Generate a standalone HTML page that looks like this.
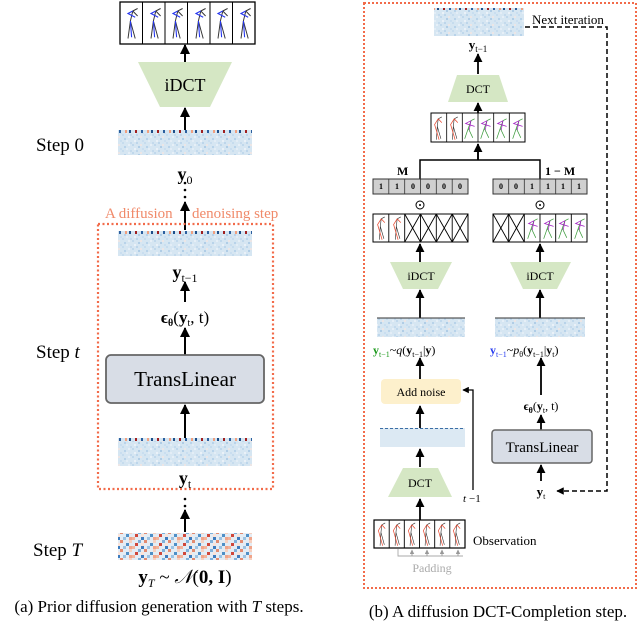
<!DOCTYPE html>
<html><head><meta charset="utf-8"><style>
html,body{margin:0;padding:0;background:#fff;}
svg{display:block;font-family:"Liberation Serif",serif;}
</style></head><body>
<svg width="640" height="623" viewBox="0 0 640 623" xmlns="http://www.w3.org/2000/svg">
<defs>
<marker id="ar" viewBox="0 0 10 10" refX="9" refY="5" markerWidth="5" markerHeight="5" orient="auto-start-reverse"><path d="M0,0 L10,5 L0,10 z" fill="#000"/></marker>
<marker id="arg" viewBox="0 0 10 10" refX="9" refY="5" markerWidth="5" markerHeight="5" orient="auto"><path d="M0,0 L10,5 L0,10 z" fill="#999"/></marker>
<pattern id="hm" width="22" height="8" patternUnits="userSpaceOnUse">
<rect width="22" height="8" fill="#d6e6f2"/>
<rect x="0" y="0" width="2" height="2" fill="#c0d8ec"/><rect x="6" y="2" width="2" height="2" fill="#b0cde6"/>
<rect x="12" y="6" width="2" height="2" fill="#c6dcee"/><rect x="18" y="0" width="2" height="2" fill="#e6eff7"/>
<rect x="2" y="4" width="2" height="2" fill="#eaf1f8"/><rect x="14" y="2" width="2" height="2" fill="#b8d3ea"/>
<rect x="20" y="6" width="2" height="2" fill="#c4daed"/><rect x="8" y="0" width="2" height="2" fill="#ece6e6"/>
<rect x="4" y="6" width="2" height="2" fill="#bdd6eb"/><rect x="16" y="4" width="2" height="2" fill="#e3edf6"/>
<rect x="10" y="4" width="2" height="2" fill="#c9def0"/>
</pattern>
<pattern id="top" width="22" height="3" patternUnits="userSpaceOnUse">
<rect width="22" height="3" fill="#d6e6f2"/>
<rect x="3" y="0" width="2" height="3" fill="#a02020"/><rect x="9" y="0" width="2" height="3" fill="#2c5f9e"/>
<rect x="15" y="0" width="2" height="3" fill="#f0a080"/><rect x="19" y="0" width="2" height="3" fill="#1e4f8a"/>
</pattern>
<pattern id="hmT" width="24" height="9" patternUnits="userSpaceOnUse">
<rect width="24" height="9" fill="#e4ecf4"/>
<rect x="0" y="0" width="3" height="3" fill="#e28a70"/><rect x="6" y="3" width="3" height="3" fill="#4f8fc6"/>
<rect x="12" y="6" width="3" height="3" fill="#f3b39b"/><rect x="18" y="0" width="3" height="3" fill="#7fb0d9"/>
<rect x="3" y="6" width="3" height="3" fill="#9cc3e3"/><rect x="15" y="3" width="3" height="3" fill="#d0473a"/>
<rect x="21" y="6" width="3" height="3" fill="#3d7cbf"/><rect x="9" y="0" width="3" height="3" fill="#f6d0c0"/>
<rect x="9" y="6" width="3" height="3" fill="#f0a48a"/><rect x="21" y="3" width="3" height="3" fill="#fbe3d8"/>
</pattern>
<g id="figB"><path d="M5,26 L7,12 L9,4 L13,2 M9,4 L13,8 M7,12 L11,26" fill="none" stroke="#333" stroke-width="0.8"/><path d="M7,12 L8,25 M9,4 L5,6 L11,9" fill="none" stroke="#2233ee" stroke-width="0.9"/></g>
<g id="figR"><path d="M6,26 L7,12 L8,4 L12,2 M7,12 L11,25" fill="none" stroke="#333" stroke-width="0.7"/><path d="M8,4 L4,10 L9,26 M8,4 L12,8" fill="none" stroke="#e8452c" stroke-width="0.8"/></g>
<g id="figG"><path d="M3,25 L7,14 L10,6 L14,4 M7,14 L12,24" fill="none" stroke="#3a9a3a" stroke-width="0.8"/><path d="M10,6 L4,9 L14,12 M10,6 L8,16" fill="none" stroke="#a020c0" stroke-width="0.8"/></g>
</defs>

<!-- LEFT (a) -->
<rect x="120" y="2" width="135" height="42" fill="#fff" stroke="#000" stroke-width="1.3"/>
<g stroke="#000" stroke-width="1"><line x1="142.5" y1="2" x2="142.5" y2="44"/><line x1="165" y1="2" x2="165" y2="44"/><line x1="187.5" y1="2" x2="187.5" y2="44"/><line x1="210" y1="2" x2="210" y2="44"/><line x1="232.5" y1="2" x2="232.5" y2="44"/></g>
<g transform="translate(122,6) scale(1.2,1.25)"><use href="#figB"/></g>
<g transform="translate(145,6) scale(1.2,1.25)"><use href="#figB"/></g>
<g transform="translate(167,6) scale(1.2,1.25)"><use href="#figB"/></g>
<g transform="translate(190,6) scale(1.2,1.25)"><use href="#figB"/></g>
<g transform="translate(212,6) scale(1.2,1.25)"><use href="#figB"/></g>
<g transform="translate(235,6) scale(1.2,1.25)"><use href="#figB"/></g>
<line x1="185" y1="62" x2="185" y2="45" stroke="#000" stroke-width="2" marker-end="url(#ar)"/>
<polygon points="138,62 232,62 210,107 160,107" fill="#d5e7c4"/>
<text x="185" y="91" font-size="18" text-anchor="middle">iDCT</text>
<line x1="185" y1="130" x2="185" y2="108" stroke="#000" stroke-width="2" marker-end="url(#ar)"/>
<text x="36" y="151" font-size="19">Step  0</text>
<rect x="118" y="130" width="134" height="25" fill="url(#hm)"/><rect x="118" y="130" width="134" height="3" fill="url(#top)"/>
<text x="185" y="180" font-size="18" font-weight="bold" text-anchor="middle">y<tspan font-size="12" font-weight="normal" dy="4">0</tspan></text>
<g fill="#000"><circle cx="185" cy="183" r="1.3"/><circle cx="185" cy="190" r="1.3"/><circle cx="185" cy="197" r="1.3"/></g>
<line x1="185" y1="230" x2="185" y2="202" stroke="#000" stroke-width="2" marker-end="url(#ar)"/>
<text x="105" y="218" font-size="15" fill="#f08a6a">A diffusion</text>
<text x="192" y="218" font-size="15" fill="#f08a6a">denoising step</text>
<rect x="98" y="224" width="175" height="265" fill="none" stroke="#f26b4a" stroke-width="2.2" stroke-dasharray="2,2.5"/>
<rect x="118" y="231" width="134" height="25" fill="url(#hm)"/><rect x="118" y="231" width="134" height="3" fill="url(#top)"/>
<text x="185" y="278" font-size="18" font-weight="bold" text-anchor="middle">y<tspan font-size="12" font-weight="normal" dy="4">t−1</tspan></text>
<line x1="185" y1="302" x2="185" y2="282" stroke="#000" stroke-width="2" marker-end="url(#ar)"/>
<text x="185" y="323" font-size="17" font-weight="bold" text-anchor="middle">ϵ<tspan font-size="10" dy="3">θ</tspan><tspan dy="-3" font-weight="normal">(</tspan>y<tspan font-size="10" font-weight="normal" dy="3">t</tspan><tspan dy="-3" font-weight="normal">, t)</tspan></text>
<line x1="185" y1="355" x2="185" y2="328" stroke="#000" stroke-width="2" marker-end="url(#ar)"/>
<text x="36" y="358" font-size="19">Step  <tspan font-style="italic">t</tspan></text>
<rect x="106" y="355" width="158" height="48" rx="5" fill="#d8dde6" stroke="#666" stroke-width="1.8"/>
<text x="185" y="386" font-size="21" text-anchor="middle">TransLinear</text>
<line x1="185" y1="438" x2="185" y2="405" stroke="#000" stroke-width="2" marker-end="url(#ar)"/>
<rect x="118" y="438" width="134" height="28" fill="url(#hm)"/><rect x="118" y="438" width="134" height="3" fill="url(#top)"/>
<text x="185" y="484" font-size="18" font-weight="bold" text-anchor="middle">y<tspan font-size="12" font-weight="normal" dy="4">t</tspan></text>
<g fill="#000"><circle cx="185" cy="499" r="1.3"/><circle cx="185" cy="506" r="1.3"/></g>
<line x1="185" y1="532" x2="185" y2="510" stroke="#000" stroke-width="2" marker-end="url(#ar)"/>
<text x="33" y="556" font-size="19">Step  <tspan font-style="italic">T</tspan></text>
<rect x="118" y="533" width="134" height="27" fill="url(#hmT)"/>
<text x="185" y="583" font-size="19" font-weight="bold" text-anchor="middle">y<tspan font-size="12" font-weight="normal" font-style="italic" dy="4">T</tspan><tspan dy="-4" font-weight="normal"> ~ </tspan><tspan font-style="italic" font-weight="normal">𝒩</tspan><tspan font-weight="normal">(</tspan>0, I<tspan font-weight="normal">)</tspan></text>
<text x="159" y="612" font-size="17" text-anchor="middle">(a) Prior diffusion generation with <tspan font-style="italic">T</tspan> steps.</text>

<!-- RIGHT (b) -->
<rect x="364" y="3" width="272" height="585" fill="none" stroke="#f26b4a" stroke-width="2" stroke-dasharray="2,2"/>
<rect x="434" y="8" width="90" height="28" fill="url(#hm)"/><rect x="434" y="8" width="90" height="2" fill="url(#top)"/>
<text x="532" y="24" font-size="13">Next iteration</text>
<path d="M525,27 L607,27 L607,491 L557,491" fill="none" stroke="#000" stroke-width="1.5" stroke-dasharray="5,3" marker-end="url(#ar)"/>
<text x="478" y="49" font-size="13" font-weight="bold" text-anchor="middle">y<tspan font-size="9" font-weight="normal" dy="3">t−1</tspan></text>
<line x1="478" y1="74" x2="478" y2="54" stroke="#000" stroke-width="1.8" marker-end="url(#ar)"/>
<polygon points="457,75 499,75 508,102 448,102" fill="#d5e7c4"/>
<text x="478" y="93" font-size="12" text-anchor="middle">DCT</text>
<line x1="478" y1="113" x2="478" y2="103" stroke="#000" stroke-width="1.8" marker-end="url(#ar)"/>
<rect x="431" y="113" width="94" height="29" fill="#fff" stroke="#000" stroke-width="1"/>
<g stroke="#000" stroke-width="0.8"><line x1="446.7" y1="113" x2="446.7" y2="142"/><line x1="462.3" y1="113" x2="462.3" y2="142"/><line x1="478" y1="113" x2="478" y2="142"/><line x1="493.7" y1="113" x2="493.7" y2="142"/><line x1="509.3" y1="113" x2="509.3" y2="142"/></g>
<use href="#figR" transform="translate(431,115) scale(0.9,0.95)"/><use href="#figR" transform="translate(447,115) scale(0.9,0.95)"/>
<use href="#figG" transform="translate(462,115) scale(0.9,0.95)"/><use href="#figG" transform="translate(478,115) scale(0.9,0.95)"/>
<use href="#figG" transform="translate(494,115) scale(0.9,0.95)"/><use href="#figG" transform="translate(510,115) scale(0.9,0.95)"/>
<path d="M420,179 L420,160 L540,160 L540,179 M478,160 L478,144" fill="none" stroke="#000" stroke-width="1.5"/>
<line x1="478" y1="160" x2="478" y2="144" stroke="#000" stroke-width="1.8" marker-end="url(#ar)"/>
<text x="397" y="175" font-size="12" font-weight="bold">M</text>
<text x="545" y="175" font-size="12" font-weight="bold">1 − M</text>
<g font-size="8" text-anchor="middle" font-weight="bold">
<rect x="373" y="179" width="95" height="15" fill="#d0d0d0" stroke="#333" stroke-width="1"/>
<g stroke="#333" stroke-width="0.8"><line x1="388.8" y1="179" x2="388.8" y2="194"/><line x1="404.7" y1="179" x2="404.7" y2="194"/><line x1="420.5" y1="179" x2="420.5" y2="194"/><line x1="436.3" y1="179" x2="436.3" y2="194"/><line x1="452.2" y1="179" x2="452.2" y2="194"/></g>
<text x="381" y="189">1</text><text x="397" y="189">1</text><text x="413" y="189">0</text><text x="428" y="189">0</text><text x="444" y="189">0</text><text x="460" y="189">0</text>
<rect x="493" y="179" width="94" height="15" fill="#d0d0d0" stroke="#333" stroke-width="1"/>
<g stroke="#333" stroke-width="0.8"><line x1="508.7" y1="179" x2="508.7" y2="194"/><line x1="524.3" y1="179" x2="524.3" y2="194"/><line x1="540" y1="179" x2="540" y2="194"/><line x1="555.7" y1="179" x2="555.7" y2="194"/><line x1="571.3" y1="179" x2="571.3" y2="194"/></g>
<text x="501" y="189">0</text><text x="516" y="189">0</text><text x="532" y="189">1</text><text x="548" y="189">1</text><text x="563" y="189">1</text><text x="579" y="189">1</text>
</g>
<g fill="none" stroke="#000" stroke-width="1"><circle cx="420" cy="205" r="4"/><circle cx="540" cy="205" r="4"/></g>
<g fill="#000"><circle cx="420" cy="205" r="1"/><circle cx="540" cy="205" r="1"/></g>
<rect x="373" y="214" width="95" height="28" fill="#fff" stroke="#000" stroke-width="1"/>
<g stroke="#000" stroke-width="0.9"><line x1="388.8" y1="214" x2="388.8" y2="242"/><line x1="404.7" y1="214" x2="404.7" y2="242"/><line x1="420.5" y1="214" x2="420.5" y2="242"/><line x1="436.3" y1="214" x2="436.3" y2="242"/><line x1="452.2" y1="214" x2="452.2" y2="242"/>
<path d="M404.7,214 L420.5,242 M420.5,214 L404.7,242 M420.5,214 L436.3,242 M436.3,214 L420.5,242 M436.3,214 L452.2,242 M452.2,214 L436.3,242 M452.2,214 L468,242 M468,214 L452.2,242"/></g>
<use href="#figR" transform="translate(374,215) scale(0.9,0.95)"/><use href="#figR" transform="translate(390,215) scale(0.9,0.95)"/>
<rect x="493" y="214" width="94" height="28" fill="#fff" stroke="#000" stroke-width="1"/>
<g stroke="#000" stroke-width="0.9"><line x1="508.7" y1="214" x2="508.7" y2="242"/><line x1="524.3" y1="214" x2="524.3" y2="242"/><line x1="540" y1="214" x2="540" y2="242"/><line x1="555.7" y1="214" x2="555.7" y2="242"/><line x1="571.3" y1="214" x2="571.3" y2="242"/>
<path d="M493,214 L508.7,242 M508.7,214 L493,242 M508.7,214 L524.3,242 M524.3,214 L508.7,242"/></g>
<use href="#figG" transform="translate(525,215) scale(0.9,0.95)"/><use href="#figG" transform="translate(541,215) scale(0.9,0.95)"/>
<use href="#figG" transform="translate(556,215) scale(0.9,0.95)"/><use href="#figG" transform="translate(572,215) scale(0.9,0.95)"/>
<line x1="420" y1="262" x2="420" y2="244" stroke="#000" stroke-width="1.8" marker-end="url(#ar)"/>
<line x1="540" y1="262" x2="540" y2="244" stroke="#000" stroke-width="1.8" marker-end="url(#ar)"/>
<polygon points="390,262 452,262 438,289 403,289" fill="#d5e7c4"/>
<polygon points="510,262 571,262 557,289 523,289" fill="#d5e7c4"/>
<text x="421" y="280" font-size="12" text-anchor="middle">iDCT</text>
<text x="540" y="280" font-size="12" text-anchor="middle">iDCT</text>
<line x1="420" y1="318" x2="420" y2="290" stroke="#000" stroke-width="1.8" marker-end="url(#ar)"/>
<line x1="540" y1="318" x2="540" y2="290" stroke="#000" stroke-width="1.8" marker-end="url(#ar)"/>
<rect x="377" y="318" width="88" height="19" fill="url(#hm)"/><line x1="377" y1="318" x2="465" y2="318" stroke="#333" stroke-width="1"/>
<rect x="495" y="318" width="90" height="19" fill="url(#hm)"/><line x1="495" y1="318" x2="585" y2="318" stroke="#333" stroke-width="1"/>
<text x="373" y="354" font-size="12"><tspan fill="#1e9a1e" font-weight="bold">y</tspan><tspan fill="#1e9a1e" font-size="8" dy="3">t−1</tspan><tspan dy="-3">~</tspan><tspan font-style="italic">q</tspan>(<tspan font-weight="bold">y</tspan><tspan font-size="8" dy="3">t−1</tspan><tspan dy="-3">|</tspan><tspan font-weight="bold">y</tspan>)</text>
<text x="490" y="354" font-size="12"><tspan fill="#2a3ef0" font-weight="bold">y</tspan><tspan fill="#2a3ef0" font-size="8" dy="3">t−1</tspan><tspan dy="-3">~</tspan><tspan font-style="italic">p</tspan><tspan font-size="8" dy="3">θ</tspan><tspan dy="-3">(</tspan><tspan font-weight="bold">y</tspan><tspan font-size="8" dy="3">t−1</tspan><tspan dy="-3">|</tspan><tspan font-weight="bold">y</tspan><tspan font-size="8" dy="3">t</tspan><tspan dy="-3">)</tspan></text>
<line x1="420" y1="380" x2="420" y2="358" stroke="#000" stroke-width="1.8" marker-end="url(#ar)"/>
<rect x="381" y="379" width="80" height="25" rx="4" fill="#fdf0cc"/>
<text x="421" y="396" font-size="12" text-anchor="middle">Add noise</text>
<path d="M473,490 L473,390 L463,390" fill="none" stroke="#000" stroke-width="1.3" marker-end="url(#ar)"/>
<text x="463" y="502" font-size="11" font-style="italic">t</text><text x="469" y="502" font-size="11">−1</text>
<line x1="420" y1="428" x2="420" y2="406" stroke="#000" stroke-width="1.8" marker-end="url(#ar)"/>
<rect x="380" y="428" width="85" height="19" fill="#dce9f3"/>
<line x1="380" y1="428.5" x2="465" y2="428.5" stroke="#3b6ea5" stroke-width="1" stroke-dasharray="3,2"/>
<line x1="420" y1="467" x2="420" y2="449" stroke="#000" stroke-width="1.8" marker-end="url(#ar)"/>
<polygon points="403,468 438,468 452,497 388,497" fill="#d5e7c4"/>
<text x="420" y="487" font-size="12" text-anchor="middle">DCT</text>
<line x1="420" y1="520" x2="420" y2="499" stroke="#000" stroke-width="1.8" marker-end="url(#ar)"/>
<rect x="374" y="520" width="91" height="28" fill="#fff" stroke="#000" stroke-width="1.2"/>
<g stroke="#000" stroke-width="0.9"><line x1="389.2" y1="520" x2="389.2" y2="548"/><line x1="404.3" y1="520" x2="404.3" y2="548"/><line x1="419.5" y1="520" x2="419.5" y2="548"/><line x1="434.7" y1="520" x2="434.7" y2="548"/><line x1="449.8" y1="520" x2="449.8" y2="548"/></g>
<use href="#figR" transform="translate(375,521) scale(0.85,0.95)"/><use href="#figR" transform="translate(390,521) scale(0.85,0.95)"/>
<use href="#figR" transform="translate(405,521) scale(0.85,0.95)"/><use href="#figR" transform="translate(420,521) scale(0.85,0.95)"/>
<use href="#figR" transform="translate(435,521) scale(0.85,0.95)"/><use href="#figR" transform="translate(450,521) scale(0.85,0.95)"/>
<text x="473" y="545" font-size="13">Observation</text>
<path d="M398,549 L398,556 L463,556" fill="none" stroke="#aaa" stroke-width="0.9"/>
<g stroke="#999" stroke-width="0.9"><line x1="412" y1="556" x2="412" y2="550" marker-end="url(#arg)"/><line x1="427" y1="556" x2="427" y2="550" marker-end="url(#arg)"/><line x1="442" y1="556" x2="442" y2="550" marker-end="url(#arg)"/><line x1="458" y1="556" x2="458" y2="550" marker-end="url(#arg)"/></g>
<text x="432" y="572" font-size="12" fill="#aaa" text-anchor="middle">Padding</text>
<line x1="541" y1="395" x2="541" y2="358" stroke="#000" stroke-width="1.8" marker-end="url(#ar)"/>
<text x="541" y="410" font-size="12" font-weight="bold" text-anchor="middle">ϵ<tspan font-size="8" dy="3">θ</tspan><tspan dy="-3" font-weight="normal">(</tspan>y<tspan font-size="8" font-weight="normal" dy="3">t</tspan><tspan dy="-3" font-weight="normal">, t)</tspan></text>
<line x1="541" y1="430" x2="541" y2="415" stroke="#000" stroke-width="1.8" marker-end="url(#ar)"/>
<rect x="492" y="430" width="100" height="33" rx="3" fill="#d8dde6" stroke="#666" stroke-width="1.5"/>
<text x="542" y="452" font-size="15" text-anchor="middle">TransLinear</text>
<line x1="541" y1="481" x2="541" y2="465" stroke="#000" stroke-width="1.8" marker-end="url(#ar)"/>
<text x="541" y="496" font-size="13" font-weight="bold" text-anchor="middle">y<tspan font-size="8" font-weight="normal" dy="3">t</tspan></text>
<text x="498" y="617" font-size="17" text-anchor="middle">(b) A diffusion DCT-Completion step.</text>
</svg>
</body></html>
